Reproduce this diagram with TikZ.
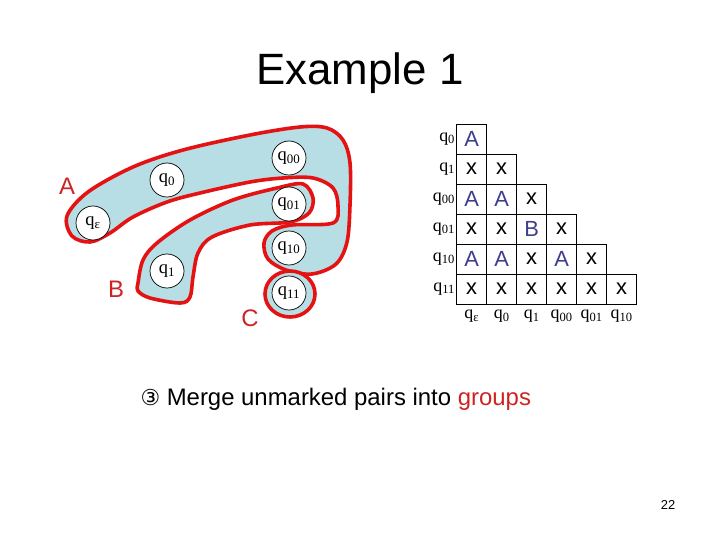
\documentclass[tikz,border=0pt]{standalone}
\usepackage{fontspec}
\setmainfont{Liberation Sans}
\newfontfamily\qfont{Liberation Serif}
\newfontfamily\symfont{DejaVu Sans}
\usepackage{xcolor}
\usetikzlibrary{positioning}

\definecolor{grpfill}{RGB}{182,222,228}
\definecolor{grpred}{RGB}{228,18,18}
\definecolor{lblred}{RGB}{205,35,35}
\definecolor{mkblue}{RGB}{62,62,140}

\newcommand{\st}[1]{{\qfont q\textsubscript{#1}}}

\begin{document}
\begin{tikzpicture}[
  x=1bp,y=-1bp,
  group/.style={draw=grpred,line width=3.6bp,fill=grpfill,line join=round},
  state/.style={circle,draw=black,line width=0.7bp,fill=white,minimum size=34bp,inner sep=0pt,font=\fontsize{18.5}{20}\selectfont},
  grplbl/.style={text=lblred,font=\fontsize{24}{28}\selectfont},
  cell/.style={rectangle,draw=black,line width=0.8bp,minimum size=30bp,inner sep=0pt,outer sep=0pt,font=\fontsize{22}{26}\selectfont},
  markcell/.style={cell,text=mkblue},
  lbl/.style={inner sep=1bp,font=\fontsize{18}{20}\selectfont}
]
\useasboundingbox (0,0) rectangle (720,540);

% title
\node[anchor=base,font=\fontsize{44}{50}\selectfont] (title) at (360,85) {Example 1};

% groups
\draw[group] plot[smooth cycle,tension=0.55] coordinates {
  (67,216) (88,192) (133,167) (183,150) (250,135) (300,127) (327,128)
  (343,140) (350,163) (350,205) (347,242) (336,264) (312,274) (286,270)
  (268,259) (264,243) (272,231) (292,225) (333,223) (338,206) (333,188)
  (313,178) (283,178) (250,182) (200,193) (167,202) (133,217) (110,233)
  (90,242) (72,236)};
\draw[group] plot[smooth cycle,tension=0.55] coordinates {
  (138,283) (143,260) (157,243) (190,220) (233,200) (277,188) (303,184)
  (313,198) (309,213) (290,222) (250,225) (212,237) (198,253) (193,277)
  (190,297) (180,303) (150,298) (138,291)};
\draw[group] (290,294) ellipse [x radius=25, y radius=23];

% states
\node[state] (qe)  at (93,223)  {\st{ε}};
\node[state] (q0)  at (167,180) {\st{0}};
\node[state] (q1)  at (167,271) {\st{1}};
\node[state] (q00) at (289,158) {\st{00}};
\node[state] (q01) at (289,204) {\st{01}};
\node[state] (q10) at (289,248) {\st{10}};
\node[state] (q11) at (289,293) {\st{11}};

\node[grplbl] (gA) at (67,186) {A};
\node[grplbl] (gB) at (116,289) {B};
\node[grplbl] (gC) at (250,318) {C};

% table of pairs
\foreach \i/\j in {1/0,1/1,2/2,3/0,3/1,3/3,4/2,4/4,5/0,5/1,5/2,5/3,5/4,5/5}
  \node[cell] (c-\i-\j) at (471.7+30*\j,139+30*\i) {x};
\foreach \i/\j/\m in {0/0/A,2/0/A,2/1/A,3/2/B,4/0/A,4/1/A,4/3/A}
  \node[markcell] (c-\i-\j) at (471.7+30*\j,139+30*\i) {\m};

\foreach \i/\s in {0/0,1/1,2/00,3/01,4/10,5/11}
  \node[lbl,left=0.5bp of c-\i-0] (r-\i) {\st{\s}};
\foreach \j/\s in {0/ε,1/0,2/1,3/00,4/01,5/10}
  \node[lbl,below=5bp of c-5-\j] (k-\j) {\st{\s}};

% caption
\node[anchor=base west,font=\fontsize{24}{28}\selectfont] (step) at (137,405)
  {{\symfont\fontsize{22}{24}\selectfont ③} Merge unmarked pairs into \textcolor{lblred}{groups}};

\node[anchor=base,font=\fontsize{13}{15}\selectfont] (page) at (668,509) {22};
\end{tikzpicture}
\end{document}
